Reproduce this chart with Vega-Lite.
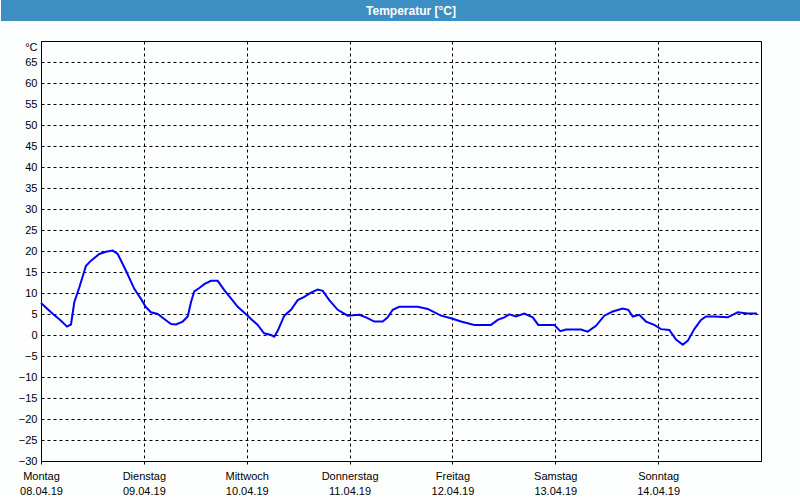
{
 "$schema": "https://vega.github.io/schema/vega-lite/v6.json",
 "background": "#fdfefe",
 "padding": 0,
 "spacing": 19,
 "config": {"font": "Liberation Sans", "view": {"stroke": null}},
 "vconcat": [
  {
   "width": 720,
   "height": 21,
   "view": {"fill": "#3d8fc3", "stroke": null},
   "data": {"values": [{"label": "Temperatur [°C]"}]},
   "layer": [
    {
     "mark": {"type": "text", "color": "white", "fontWeight": "bold", "fontSize": 12, "font": "Liberation Sans", "dx": 10},
     "encoding": {
      "text": {"field": "label"},
      "y": {"datum": 0, "type": "quantitative", "scale": {"domain": [-1, 1]},
            "axis": {"orient": "left", "title": null, "labels": false, "ticks": false, "grid": false, "translate": 0, "domainWidth": 80, "domainColor": "#3d8fc3", "domainCap": "butt", "minExtent": 0, "maxExtent": 40}}
     }
    },
    {
     "mark": {"type": "text", "opacity": 0},
     "encoding": {
      "text": {"field": "label"},
      "y": {"datum": 0, "type": "quantitative", "scale": {"domain": [-1, 1]},
            "axis": {"orient": "right", "title": null, "labels": false, "ticks": false, "grid": false, "translate": 0, "domainWidth": 80, "domainColor": "#3d8fc3", "domainCap": "butt", "minExtent": 40, "maxExtent": 40}}
     }
    }
   ],
   "resolve": {"axis": {"y": "independent"}}
  },
  {
   "width": 720,
   "height": 420,
   "view": {"stroke": "black", "strokeWidth": 1},
   "data": {"values": [
    {"t": "2019-04-08T00:00", "temp": 7.6},
    {"t": "2019-04-08T02:20", "temp": 5.4},
    {"t": "2019-04-08T04:40", "temp": 3.4},
    {"t": "2019-04-08T06:04", "temp": 2.0},
    {"t": "2019-04-08T07:00", "temp": 2.5},
    {"t": "2019-04-08T07:46", "temp": 7.8},
    {"t": "2019-04-08T08:56", "temp": 11.3},
    {"t": "2019-04-08T10:30", "temp": 16.5},
    {"t": "2019-04-08T11:40", "temp": 17.7},
    {"t": "2019-04-08T13:36", "temp": 19.3},
    {"t": "2019-04-08T15:10", "temp": 19.8},
    {"t": "2019-04-08T16:44", "temp": 20.1},
    {"t": "2019-04-08T17:54", "temp": 19.3},
    {"t": "2019-04-08T19:50", "temp": 15.3},
    {"t": "2019-04-08T21:46", "temp": 11.0},
    {"t": "2019-04-08T23:20", "temp": 8.6},
    {"t": "2019-04-09T00:30", "temp": 6.6},
    {"t": "2019-04-09T01:40", "temp": 5.4},
    {"t": "2019-04-09T03:14", "temp": 5.0},
    {"t": "2019-04-09T04:46", "temp": 3.8},
    {"t": "2019-04-09T06:20", "temp": 2.6},
    {"t": "2019-04-09T07:30", "temp": 2.5},
    {"t": "2019-04-09T09:04", "temp": 3.2},
    {"t": "2019-04-09T10:14", "temp": 4.4},
    {"t": "2019-04-09T11:00", "temp": 7.8},
    {"t": "2019-04-09T11:46", "temp": 10.4},
    {"t": "2019-04-09T12:56", "temp": 11.2},
    {"t": "2019-04-09T14:06", "temp": 12.1},
    {"t": "2019-04-09T15:40", "temp": 12.9},
    {"t": "2019-04-09T17:14", "temp": 12.9},
    {"t": "2019-04-09T18:46", "temp": 10.7},
    {"t": "2019-04-09T20:20", "temp": 8.7},
    {"t": "2019-04-09T21:54", "temp": 6.7},
    {"t": "2019-04-10T00:14", "temp": 4.6},
    {"t": "2019-04-10T01:00", "temp": 3.8},
    {"t": "2019-04-10T02:34", "temp": 2.4},
    {"t": "2019-04-10T03:44", "temp": 0.8},
    {"t": "2019-04-10T04:06", "temp": 0.4},
    {"t": "2019-04-10T05:40", "temp": 0.0},
    {"t": "2019-04-10T06:26", "temp": -0.4},
    {"t": "2019-04-10T07:14", "temp": 1.0},
    {"t": "2019-04-10T08:46", "temp": 4.6},
    {"t": "2019-04-10T10:20", "temp": 6.0},
    {"t": "2019-04-10T11:54", "temp": 8.3},
    {"t": "2019-04-10T13:26", "temp": 9.1},
    {"t": "2019-04-10T15:00", "temp": 10.1},
    {"t": "2019-04-10T16:34", "temp": 10.8},
    {"t": "2019-04-10T17:44", "temp": 10.5},
    {"t": "2019-04-10T19:16", "temp": 8.3},
    {"t": "2019-04-10T21:14", "temp": 6.0},
    {"t": "2019-04-10T23:34", "temp": 4.6},
    {"t": "2019-04-11T02:16", "temp": 4.8},
    {"t": "2019-04-11T03:50", "temp": 4.2},
    {"t": "2019-04-11T05:46", "temp": 3.2},
    {"t": "2019-04-11T07:44", "temp": 3.2},
    {"t": "2019-04-11T08:54", "temp": 4.2},
    {"t": "2019-04-11T10:04", "temp": 6.0},
    {"t": "2019-04-11T11:36", "temp": 6.7},
    {"t": "2019-04-11T15:54", "temp": 6.7},
    {"t": "2019-04-11T18:14", "temp": 6.2},
    {"t": "2019-04-11T21:20", "temp": 4.6},
    {"t": "2019-04-11T23:40", "temp": 4.0},
    {"t": "2019-04-12T02:00", "temp": 3.2},
    {"t": "2019-04-12T05:06", "temp": 2.4},
    {"t": "2019-04-12T09:00", "temp": 2.4},
    {"t": "2019-04-12T10:34", "temp": 3.6},
    {"t": "2019-04-12T12:06", "temp": 4.2},
    {"t": "2019-04-12T13:16", "temp": 4.9},
    {"t": "2019-04-12T14:50", "temp": 4.4},
    {"t": "2019-04-12T16:46", "temp": 5.1},
    {"t": "2019-04-12T18:44", "temp": 4.2},
    {"t": "2019-04-12T20:02", "temp": 2.4},
    {"t": "2019-04-12T23:46", "temp": 2.4},
    {"t": "2019-04-13T01:10", "temp": 0.9},
    {"t": "2019-04-13T02:30", "temp": 1.3},
    {"t": "2019-04-13T06:00", "temp": 1.3},
    {"t": "2019-04-13T07:34", "temp": 0.8},
    {"t": "2019-04-13T09:30", "temp": 2.2},
    {"t": "2019-04-13T11:26", "temp": 4.6},
    {"t": "2019-04-13T13:24", "temp": 5.6},
    {"t": "2019-04-13T15:44", "temp": 6.3},
    {"t": "2019-04-13T17:02", "temp": 6.0},
    {"t": "2019-04-13T18:04", "temp": 4.4},
    {"t": "2019-04-13T19:36", "temp": 4.8},
    {"t": "2019-04-13T21:10", "temp": 3.2},
    {"t": "2019-04-13T23:06", "temp": 2.4},
    {"t": "2019-04-14T00:40", "temp": 1.4},
    {"t": "2019-04-14T02:36", "temp": 1.2},
    {"t": "2019-04-14T04:10", "temp": -1.1},
    {"t": "2019-04-14T05:44", "temp": -2.3},
    {"t": "2019-04-14T06:54", "temp": -1.4},
    {"t": "2019-04-14T08:26", "temp": 1.4},
    {"t": "2019-04-14T10:00", "temp": 3.6},
    {"t": "2019-04-14T11:10", "temp": 4.4},
    {"t": "2019-04-14T13:06", "temp": 4.4},
    {"t": "2019-04-14T16:14", "temp": 4.2},
    {"t": "2019-04-14T18:34", "temp": 5.4},
    {"t": "2019-04-14T20:54", "temp": 5.1},
    {"t": "2019-04-14T23:04", "temp": 5.1}
   ]},
   "mark": {"type": "line", "color": "#0000ff", "strokeWidth": 2},
   "encoding": {
    "x": {
     "field": "t", "type": "temporal",
     "scale": {"domain": [{"year": 2019, "month": 4, "date": 8}, {"year": 2019, "month": 4, "date": 15}], "nice": false},
     "axis": {
      "title": null,
      "values": [
       {"year": 2019, "month": 4, "date": 8},
       {"year": 2019, "month": 4, "date": 9},
       {"year": 2019, "month": 4, "date": 10},
       {"year": 2019, "month": 4, "date": 11},
       {"year": 2019, "month": 4, "date": 12},
       {"year": 2019, "month": 4, "date": 13},
       {"year": 2019, "month": 4, "date": 14}
      ],
      "labelExpr": "[['Sonntag','Montag','Dienstag','Mittwoch','Donnerstag','Freitag','Samstag'][day(datum.value)], timeFormat(datum.value, '%d.%m.%y')]",
      "labelFont": "Liberation Sans",
      "labelFontSize": 11,
      "labelColor": "black",
      "labelPadding": 6,
      "labelLineHeight": 15,
      "labelFlush": false,
      "labelOverlap": false,
      "labelAngle": 0,
      "tickSize": 3,
      "tickColor": "black",
      "domainColor": "black",
      "grid": true,
      "gridColor": "black",
      "gridOpacity": 1,
      "gridDash": [3, 3]
     }
    },
    "y": {
     "field": "temp", "type": "quantitative",
     "scale": {"domain": [-30, 70], "nice": false, "zero": false},
     "axis": {
      "title": "°C",
      "titleAngle": 0,
      "titleAlign": "right",
      "titleBaseline": "middle",
      "titleX": -4,
      "titleY": 6,
      "titleFont": "Liberation Sans",
      "titleFontSize": 11,
      "titleFontWeight": "normal",
      "titleColor": "black",
      "values": [-30, -25, -20, -15, -10, -5, 0, 5, 10, 15, 20, 25, 30, 35, 40, 45, 50, 55, 60, 65],
      "ticks": false,
      "labelPadding": 4,
      "labelFont": "Liberation Sans",
      "labelFontSize": 11,
      "labelColor": "black",
      "labelFlush": false,
      "labelOverlap": false,
      "domainColor": "black",
      "grid": true,
      "gridColor": "black",
      "gridOpacity": 1,
      "gridDash": [3, 3],
      "minExtent": 40,
      "maxExtent": 40
     }
    }
   }
  }
 ]
}
